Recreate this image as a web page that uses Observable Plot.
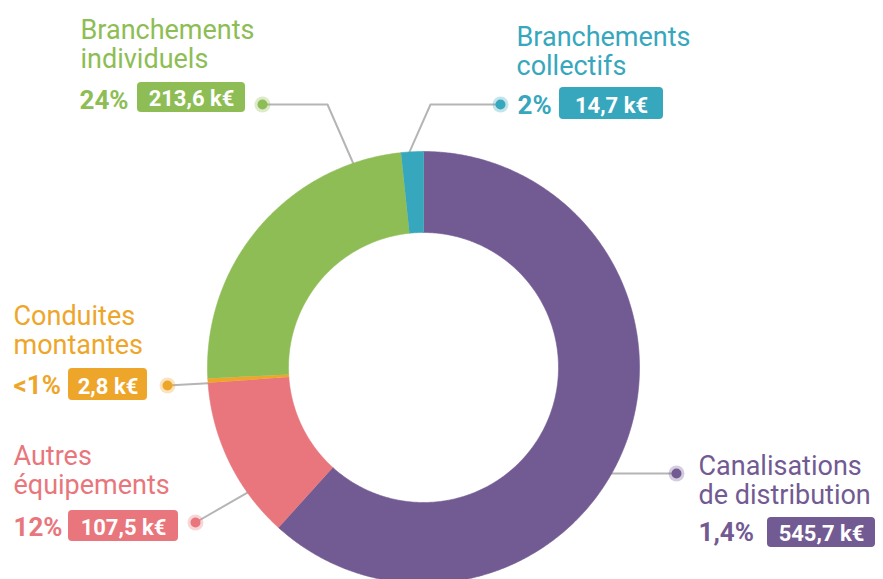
<!DOCTYPE html>
<html>
<head>
<meta charset="utf-8">
<script src="https://cdn.jsdelivr.net/npm/d3@7"></script>
<script src="https://cdn.jsdelivr.net/npm/@observablehq/plot@0.6"></script>
<style>
  html, body { margin: 0; padding: 0; background: #fff; }
  #chart svg { display: block; }
</style>
</head>
<body>
<div id="chart"></div>
<script>
// ---- Data ----
const categories = ["Canalisations de distribution", "Autres équipements", "Conduites montantes", "Branchements individuels", "Branchements collectifs"];
const values = [545.7, 107.5, 2.8, 213.6, 14.7];
const titleFirstLines = ["Canalisations", "Autres", "Conduites", "Branchements", "Branchements"];
const titleSecondLines = ["de distribution", "équipements", "montantes", "individuels", "collectifs"];
const percentLabels = ["1,4%", "12%", "<1%", "24%", "2%"];
const amountLabels = ["545,7 k€", "107,5 k€", "2,8 k€", "213,6 k€", "14,7 k€"];

// ---- Styles ----
const colors = ["#725a92", "#e8767c", "#eea62a", "#8dbd54", "#37a7bd"];
const W = 883, H = 579;
const CX = 423, CY = 367;       // donut centre (pixels)
const R_OUT = 216, R_IN = 135;  // radii (pixels)
const FONT = "Roboto, 'Open Sans', sans-serif";
const LINE_GAP = 29;

// ---- Annotation layout (pixels) ----
const layout = [
  {titleX: 698, titleBase: 503, pctX: 698, pctBase: 540, box: [767, 875, 517, 547], dot: [676, 473], elbow: null, ringAngle: 119.4},
  {titleX: 13, titleBase: 493, pctX: 13, pctBase: 535, box: [68, 178, 510, 541], dot: [195, 522], elbow: null, ringAngle: 234.6},
  {titleX: 13, titleBase: 353, pctX: 13, pctBase: 393, box: [68, 147, 368, 400], dot: [167, 385], elbow: null, ringAngle: 265.8},
  {titleX: 80, titleBase: 67, pctX: 79, pctBase: 108, box: [137, 245, 82, 112], dot: [262, 104], elbow: [327, 104], ringAngle: 341},
  {titleX: 516, titleBase: 74, pctX: 517, pctBase: 113, box: [559, 663, 87, 119], dot: [500, 104], elbow: [430, 104], ringAngle: 356.3}
];

// data units: offset from donut centre, y up
const ux = px => px - CX;
const uy = py => CY - py;

// ---- Donut slices as closed outlines ----
const total = d3.sum(values);
const arcPts = [];
let acc = 0;
categories.forEach((c, i) => {
  const a0 = acc / total * 2 * Math.PI;
  acc += values[i];
  const a1 = acc / total * 2 * Math.PI;
  const n = Math.max(2, Math.ceil((a1 - a0) / (Math.PI / 360)));
  for (let k = 0; k <= n; k++) {
    const a = a0 + (a1 - a0) * k / n;
    arcPts.push({cat: c, x: R_OUT * Math.sin(a), y: R_OUT * Math.cos(a)});
  }
  for (let k = n; k >= 0; k--) {
    const a = a0 + (a1 - a0) * k / n;
    arcPts.push({cat: c, x: R_IN * Math.sin(a), y: R_IN * Math.cos(a)});
  }
});

// ---- Leader lines ----
const leaderPts = [];
categories.forEach((c, i) => {
  const L = layout[i];
  const a = L.ringAngle * Math.PI / 180;
  leaderPts.push({cat: c, x: R_OUT * Math.sin(a), y: R_OUT * Math.cos(a)});
  if (L.elbow) leaderPts.push({cat: c, x: ux(L.elbow[0]), y: uy(L.elbow[1])});
  leaderPts.push({cat: c, x: ux(L.dot[0]), y: uy(L.dot[1])});
});

const labels = categories.map((c, i) => {
  const L = layout[i];
  return {
    cat: c,
    t1: titleFirstLines[i],
    t2: titleSecondLines[i],
    pct: percentLabels[i],
    amount: amountLabels[i],
    tx: ux(L.titleX), ty1: uy(L.titleBase - LINE_GAP), ty2: uy(L.titleBase),
    px: ux(L.pctX), py: uy(L.pctBase),
    bx1: ux(L.box[0]), bx2: ux(L.box[1]), by1: uy(L.box[2]), by2: uy(L.box[3]),
    ax: ux((L.box[0] + L.box[1]) / 2), ay: uy(L.box[3] - 7),
    dx: ux(L.dot[0]), dy: uy(L.dot[1])
  };
});

const titleOpts = {fill: "cat", textAnchor: "start", lineAnchor: "bottom", fontSize: 27, fontWeight: 400};

const chart = Plot.plot({
  width: W,
  height: H,
  margin: 0,
  x: {domain: [ux(0), ux(W)], axis: null},
  y: {domain: [uy(H), uy(0)], axis: null},
  color: {domain: categories, range: colors},
  style: {fontFamily: FONT, background: "#fff", overflow: "visible"},
  marks: [
    Plot.line(leaderPts, {x: "x", y: "y", z: "cat", stroke: "#b5b5b5", strokeWidth: 2, curve: "linear"}),
    Plot.line(arcPts, {x: "x", y: "y", z: "cat", fill: "cat", stroke: "cat", strokeWidth: 0.6, curve: "linear"}),
    Plot.dot(labels, {x: "dx", y: "dy", r: 8, fill: "cat", fillOpacity: 0.3}),
    Plot.dot(labels, {x: "dx", y: "dy", r: 5, fill: "cat"}),
    Plot.text(labels, {x: "tx", y: "ty1", text: "t1", ...titleOpts}),
    Plot.text(labels, {x: "tx", y: "ty2", text: "t2", ...titleOpts}),
    Plot.text(labels, {x: "px", y: "py", text: "pct", fill: "cat", textAnchor: "start", lineAnchor: "bottom", fontSize: 26, fontWeight: 700}),
    Plot.rect(labels, {x1: "bx1", x2: "bx2", y1: "by1", y2: "by2", fill: "cat", rx: 4}),
    Plot.text(labels, {x: "ax", y: "ay", text: "amount", fill: "white", textAnchor: "middle", lineAnchor: "bottom", fontSize: 22, fontWeight: 700})
  ]
});
document.getElementById("chart").appendChild(chart);
</script>
</body>
</html>
